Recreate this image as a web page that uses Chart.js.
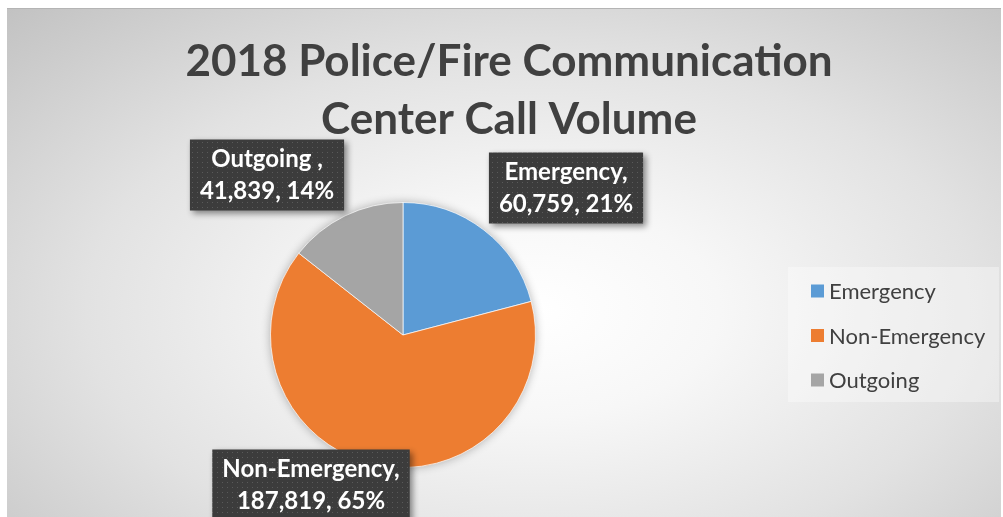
<!DOCTYPE html>
<html lang="en">
<head>
  <meta charset="UTF-8" />
  <title>2018 Police/Fire Communication Center Call Volume</title>
  <style>
    body {
      margin: 0;
      background: #ffffff;
      width: 1003px;
      height: 517px;
      overflow: hidden;
      position: relative;
    }
    .frame {
      position: absolute;
      left: 7px;
      top: 8px;
      width: 994px;
      height: 520px;
      border-top: 1px solid #b4b4b4;
      background: radial-gradient(ellipse farthest-corner at 53% 58%, #ffffff 0%, #f7f7f7 25%, #e2e2e2 60%, #c2c2c2 100%);
    }
    #callChart {
      position: absolute;
      left: 0;
      top: 0;
    }
  </style>
</head>
<body>
  <div class="frame"></div>
  <canvas id="callChart" width="1003" height="517"></canvas>

  <script src="https://cdn.jsdelivr.net/npm/chart.js"></script>
  <script>
    // chart data
    const categories = ['Emergency', 'Non-Emergency', 'Outgoing '];
    const callCounts = [60759, 187819, 41839];
    const titleLines = ['2018 Police/Fire Communication', 'Center Call Volume'];

    const sliceColors = ['#5b9bd5', '#ed7d31', '#a5a5a5'];
    const textGrey = '#404040';
    const font = 'Lato, "Liberation Sans", sans-serif';

    // where each data label box sits, relative to the pie centre
    const labelOffsets = [[163, -147], [-92, 150], [-136, -160]];

    const total = callCounts.reduce((a, b) => a + b, 0);

    function dottedPattern(ctx) {
      const c = document.createElement('canvas');
      c.width = 5; c.height = 5;
      const p = c.getContext('2d');
      p.fillStyle = '#3c3c3c';
      p.fillRect(0, 0, 5, 5);
      p.fillStyle = '#5a5a5a';
      p.fillRect(2, 2, 1, 1);
      return ctx.createPattern(c, 'repeat');
    }

    const titlePlugin = {
      id: 'titlePlugin',
      afterDraw(chart) {
        const ctx = chart.ctx;
        ctx.save();
        ctx.fillStyle = textGrey;
        ctx.font = 'bold 44px ' + font;
        ctx.textAlign = 'center';
        ctx.textBaseline = 'alphabetic';
        ctx.fillText(titleLines[0], 509, 76);
        ctx.fillText(titleLines[1], 509, 134);
        ctx.restore();
      }
    };

    const pieShadow = {
      id: 'pieShadow',
      beforeDatasetsDraw(chart) {
        const arc = chart.getDatasetMeta(0).data[0];
        const ctx = chart.ctx;
        ctx.save();
        ctx.beginPath();
        ctx.arc(arc.x, arc.y, arc.outerRadius, 0, Math.PI * 2);
        ctx.shadowColor = 'rgba(0,0,0,0.3)';
        ctx.shadowBlur = 10;
        ctx.fillStyle = '#d0d0d0';
        ctx.fill();
        ctx.restore();
      }
    };

    const dataLabels = {
      id: 'dataLabels',
      afterDatasetsDraw(chart) {
        const ctx = chart.ctx;
        const meta = chart.getDatasetMeta(0);
        const pattern = dottedPattern(ctx);
        ctx.save();
        ctx.font = 'bold 24px ' + font;
        meta.data.forEach((arc, i) => {
          const value = chart.data.datasets[0].data[i];
          const pct = Math.round(value / total * 100) + '%';
          const lines = [
            chart.data.labels[i] + ',',
            value.toLocaleString('en-US') + ', ' + pct
          ];
          const w = Math.max(...lines.map(l => ctx.measureText(l).width)) + 20;
          const h = 71;
          const cx = arc.x + labelOffsets[i][0];
          const cy = arc.y + labelOffsets[i][1];

          ctx.save();
          ctx.shadowColor = 'rgba(0,0,0,0.45)';
          ctx.shadowBlur = 6;
          ctx.shadowOffsetX = 3;
          ctx.shadowOffsetY = 3;
          ctx.fillStyle = pattern;
          ctx.fillRect(cx - w / 2, cy - h / 2, w, h);
          ctx.restore();

          ctx.fillStyle = '#ffffff';
          ctx.textAlign = 'center';
          ctx.textBaseline = 'middle';
          ctx.fillText(lines[0], cx, cy - 16);
          ctx.fillText(lines[1], cx, cy + 16);
        });
        ctx.restore();
      }
    };

    const sideLegend = {
      id: 'sideLegend',
      afterDraw(chart) {
        const ctx = chart.ctx;
        ctx.save();
        ctx.fillStyle = 'rgba(255,255,255,0.35)';
        ctx.fillRect(788, 267, 211, 135);
        ctx.font = '22px ' + font;
        ctx.textBaseline = 'middle';
        ctx.textAlign = 'left';
        chart.data.labels.forEach((label, i) => {
          const y = 291 + i * 44.5;
          ctx.fillStyle = chart.data.datasets[0].backgroundColor[i];
          ctx.fillRect(811, y - 6.5, 13, 13);
          ctx.fillStyle = textGrey;
          ctx.fillText(label.trim(), 829, y + 1);
        });
        ctx.restore();
      }
    };

    const ctxCalls = document.getElementById('callChart').getContext('2d');
    const callChart = new Chart(ctxCalls, {
      type: 'pie',
      data: {
        labels: categories,
        datasets: [{
          data: callCounts,
          backgroundColor: sliceColors,
          borderColor: 'rgba(255,255,255,0.7)',
          borderWidth: 1
        }]
      },
      options: {
        responsive: false,
        animation: false,
        layout: {
          padding: { left: 270, right: 467, top: 202, bottom: 49 }
        },
        plugins: {
          legend: { display: false },
          tooltip: { enabled: false },
          title: { display: false }
        }
      },
      plugins: [pieShadow, dataLabels, titlePlugin, sideLegend]
    });
  </script>
</body>
</html>
